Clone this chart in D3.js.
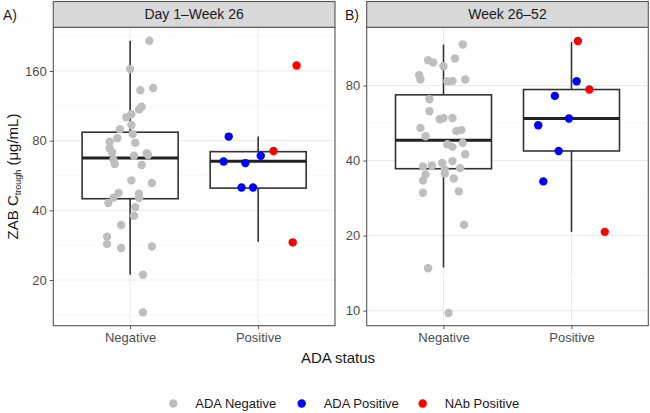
<!DOCTYPE html>
<html lang="en">
  <head>
    <meta charset="UTF-8" />
    <title>ZAB Ctrough by ADA status</title>
    <script src="https://d3js.org/d3.v7.min.js"></script>
    <style>
      body {
        margin: 0;
        background: #fff;
        font-family: "Liberation Sans", Arial, sans-serif;
      }
      .grid-major { stroke: #ebebeb; stroke-width: 1; }
      .grid-minor { stroke: #f3f3f3; stroke-width: 0.6; }
      .tick-label { fill: #4d4d4d; font-size: 13px; }
    </style>
  </head>
  <body>
    <svg id="chart" width="650" height="413"></svg>

    <script>
      // ---- data ----
      const groups = ["Negative", "Positive"];
      const panelTitles = ["Day 1\u2013Week 26", "Week 26\u201352"];
      const panelTags = ["A)", "B)"];
      const statusLabels = ["ADA Negative", "ADA Positive", "NAb Positive"];
      const statusColors = ["#bebebe", "#0000ff", "#ff0000"];

      const yTicksA = [20, 40, 80, 160];
      const yTicksB = [10, 20, 40, 80];
      const yMinorA = [14.1, 28.3, 56.6, 113, 226];
      const yMinorB = [14.1, 28.3, 56.6, 113];
      const yLimitsA = [12.7, 247];
      const yLimitsB = [8.7, 137];

      // [whisker low, Q1, median, Q3, whisker high] per group
      const boxStatsA = [[21.1, 44.9, 67.4, 87, 216], [29.3, 49.9, 65.2, 71.7, 83.3]];
      const boxStatsB = [[14.9, 37.1, 48.3, 73.4, 116.8], [20.7, 43.7, 59, 77.1, 119.6]];

      // panel A, ADA negative
      const negValuesA = [216, 163, 132, 135, 112, 109, 104, 101, 93.5, 89.6, 85.5, 82, 79.2,
        78.4, 74.2, 71.1, 68.8, 70.6, 69.4, 66.1, 63.4, 62.8, 53.9, 52.5, 47.6, 47.2, 45.4,
        43.0, 45.2, 41.3, 37.9, 34.6, 30.8, 28.6, 27.5, 27.9, 21.1, 14.5];
      const negJitterA = [0.15, 0.0, 0.08, 0.18, 0.09, 0.07, 0.01, -0.03, 0.01, -0.08, 0.02, -0.1, -0.16,
        0.04, -0.16, -0.14, 0.03, 0.13, 0.14, -0.13, -0.12, 0.09, 0.01, 0.17, -0.09, 0.07, -0.13,
        -0.17, 0.07, 0.04, 0.03, -0.07, -0.18, -0.18, -0.07, 0.17, 0.1, 0.1];
      // panel A, ADA positive
      const posValuesA = [83.3, 65.0, 64.0, 68.8, 50.2, 50.2, 169, 72.2, 29.1];
      const posJitterA = [-0.23, -0.27, -0.1, 0.02, -0.13, -0.04, 0.3, 0.12, 0.27];
      const posStatusA = [1, 1, 1, 1, 1, 1, 2, 2, 2];

      // panel B, ADA negative
      const negValuesB = [116.9, 101, 99, 102.7, 95.6, 88, 84.6, 83.2, 83.4, 84.6, 70.5, 63.1,
        58.6, 59.3, 59.3, 54.1, 50.1, 52.5, 53, 47.1, 46.5, 45.4, 42.4, 37.9, 38.2, 39.1, 39.8,
        37.3, 36.8, 35.2, 33.3, 33.9, 35.5, 29.7, 30.1, 22.1, 14.8, 9.78];
      const negJitterB = [0.15, -0.12, -0.08, 0.09, 0.0, -0.19, -0.18, 0.03, 0.07, 0.17, -0.11, -0.11,
        -0.03, 0.0, 0.07, -0.18, -0.14, 0.1, 0.14, 0.15, 0.03, 0.07, 0.17, -0.16, -0.09, -0.01, 0.07,
        0.13, 0.01, -0.14, -0.16, 0.08, 0.01, -0.16, 0.12, 0.16, -0.12, 0.04];
      // panel B, ADA positive
      const posValuesB = [83.2, 72.7, 55.4, 59, 43.7, 33, 120.8, 77.1, 20.7];
      const posJitterB = [0.04, -0.13, -0.26, -0.02, -0.1, -0.22, 0.05, 0.14, 0.26];
      const posStatusB = [1, 1, 1, 1, 1, 1, 2, 2, 2];

      // ---- layout ----
      const svg = d3.select("#chart");
      const plotTop = 27.3, plotBottom = 325.7, stripTop = 1.5;
      const panels = [
        {
          x0: 53.3, x1: 335, tagX: 3, title: panelTitles[0], tag: panelTags[0],
          ticks: yTicksA, minor: yMinorA, limits: yLimitsA, box: boxStatsA,
          neg: negValuesA, negJ: negJitterA, pos: posValuesA, posJ: posJitterA, posS: posStatusA
        },
        {
          x0: 366.7, x1: 648.3, tagX: 345, title: panelTitles[1], tag: panelTags[1],
          ticks: yTicksB, minor: yMinorB, limits: yLimitsB, box: boxStatsB,
          neg: negValuesB, negJ: negJitterB, pos: posValuesB, posJ: posJitterB, posS: posStatusB
        }
      ];

      panels.forEach(p => {
        const x = d3.scalePoint().domain(groups).range([p.x0, p.x1]).padding(0.6);
        const step = x.step();
        const y = d3.scaleLog().base(2).domain(p.limits).range([plotBottom, plotTop]);
        const g = svg.append("g");

        // background grid
        g.selectAll(".grid-minor").data(p.minor).join("line")
          .attr("class", "grid-minor")
          .attr("x1", p.x0).attr("x2", p.x1)
          .attr("y1", d => y(d)).attr("y2", d => y(d));
        g.selectAll(".gy").data(p.ticks).join("line")
          .attr("class", "grid-major gy")
          .attr("x1", p.x0).attr("x2", p.x1)
          .attr("y1", d => y(d)).attr("y2", d => y(d));
        g.selectAll(".gx").data(groups).join("line")
          .attr("class", "grid-major gx")
          .attr("x1", d => x(d)).attr("x2", d => x(d))
          .attr("y1", plotTop).attr("y2", plotBottom);

        // boxplots
        const bw = step * 0.375;
        const boxes = g.selectAll(".box").data(groups).join("g").attr("class", "box");
        boxes.append("line")
          .attr("x1", d => x(d)).attr("x2", d => x(d))
          .attr("y1", (d, i) => y(p.box[i][0])).attr("y2", (d, i) => y(p.box[i][1]))
          .attr("stroke", "#333").attr("stroke-width", 1.6);
        boxes.append("line")
          .attr("x1", d => x(d)).attr("x2", d => x(d))
          .attr("y1", (d, i) => y(p.box[i][3])).attr("y2", (d, i) => y(p.box[i][4]))
          .attr("stroke", "#333").attr("stroke-width", 1.6);
        boxes.append("rect")
          .attr("x", d => x(d) - bw).attr("width", bw * 2)
          .attr("y", (d, i) => y(p.box[i][3]))
          .attr("height", (d, i) => y(p.box[i][1]) - y(p.box[i][3]))
          .attr("fill", "#fff").attr("stroke", "#333").attr("stroke-width", 1.6);
        boxes.append("line")
          .attr("x1", d => x(d) - bw).attr("x2", d => x(d) + bw)
          .attr("y1", (d, i) => y(p.box[i][2])).attr("y2", (d, i) => y(p.box[i][2]))
          .attr("stroke", "#222").attr("stroke-width", 3);

        // jittered points
        const pts = p.neg.map((v, i) => ({ grp: groups[0], v, j: p.negJ[i], s: 0 }))
          .concat(p.pos.map((v, i) => ({ grp: groups[1], v, j: p.posJ[i], s: p.posS[i] })));
        g.selectAll(".pt").data(pts).join("circle")
          .attr("class", "pt")
          .attr("cx", d => x(d.grp) + d.j * step)
          .attr("cy", d => y(d.v))
          .attr("r", 4.2)
          .attr("fill", d => statusColors[d.s]);

        // panel border
        g.append("rect")
          .attr("x", p.x0).attr("y", plotTop)
          .attr("width", p.x1 - p.x0).attr("height", plotBottom - plotTop)
          .attr("fill", "none").attr("stroke", "#555").attr("stroke-width", 1.1);

        // strip
        g.append("rect")
          .attr("x", p.x0).attr("y", stripTop)
          .attr("width", p.x1 - p.x0).attr("height", plotTop - stripTop)
          .attr("fill", "#d9d9d9").attr("stroke", "#555").attr("stroke-width", 1.1);
        g.append("text")
          .attr("x", (p.x0 + p.x1) / 2).attr("y", (stripTop + plotTop) / 2 + 5)
          .attr("text-anchor", "middle")
          .attr("font-size", 14).attr("fill", "#1a1a1a")
          .text(p.title);

        // panel tag
        g.append("text")
          .attr("x", p.tagX).attr("y", 20)
          .attr("font-size", 14).attr("fill", "#1a1a1a")
          .text(p.tag);

        // y axis
        const yAxis = g.append("g")
          .attr("transform", `translate(${p.x0},0)`)
          .call(d3.axisLeft(y).tickValues(p.ticks).tickFormat(d3.format("d")).tickSize(3.5).tickPadding(3));
        yAxis.select(".domain").remove();
        yAxis.selectAll(".tick line").attr("stroke", "#555");
        yAxis.selectAll(".tick text").attr("class", "tick-label")
          .attr("font-family", "inherit");

        // x axis
        const xAxis = g.append("g")
          .attr("transform", `translate(0,${plotBottom})`)
          .call(d3.axisBottom(x).tickSize(3.5).tickPadding(4));
        xAxis.select(".domain").remove();
        xAxis.selectAll(".tick line").attr("stroke", "#555");
        xAxis.selectAll(".tick text").attr("class", "tick-label")
          .attr("font-family", "inherit");
      });

      // axis titles
      svg.append("text")
        .attr("x", 338).attr("y", 363)
        .attr("text-anchor", "middle")
        .attr("font-size", 15).attr("fill", "#1a1a1a")
        .text("ADA status");

      const yTitle = svg.append("text")
        .attr("transform", `translate(18,${(plotTop + plotBottom) / 2}) rotate(-90)`)
        .attr("text-anchor", "middle")
        .attr("font-size", 15).attr("fill", "#1a1a1a");
      yTitle.append("tspan").text("ZAB C");
      yTitle.append("tspan").attr("font-size", 9).attr("dy", 3).text("trough");
      yTitle.append("tspan").attr("dy", -3).text(" (\u03bcg/mL)");

      // legend
      const legendX = [173.3, 301.7, 422.7];
      const legend = svg.append("g").selectAll("g").data(statusLabels).join("g")
        .attr("transform", (d, i) => `translate(${legendX[i]},403.5)`);
      legend.append("circle").attr("r", 4.2).attr("fill", (d, i) => statusColors[i]);
      legend.append("text")
        .attr("x", 22).attr("y", 4.5)
        .attr("font-size", 13).attr("fill", "#1a1a1a")
        .text(d => d);
    </script>
  </body>
</html>
